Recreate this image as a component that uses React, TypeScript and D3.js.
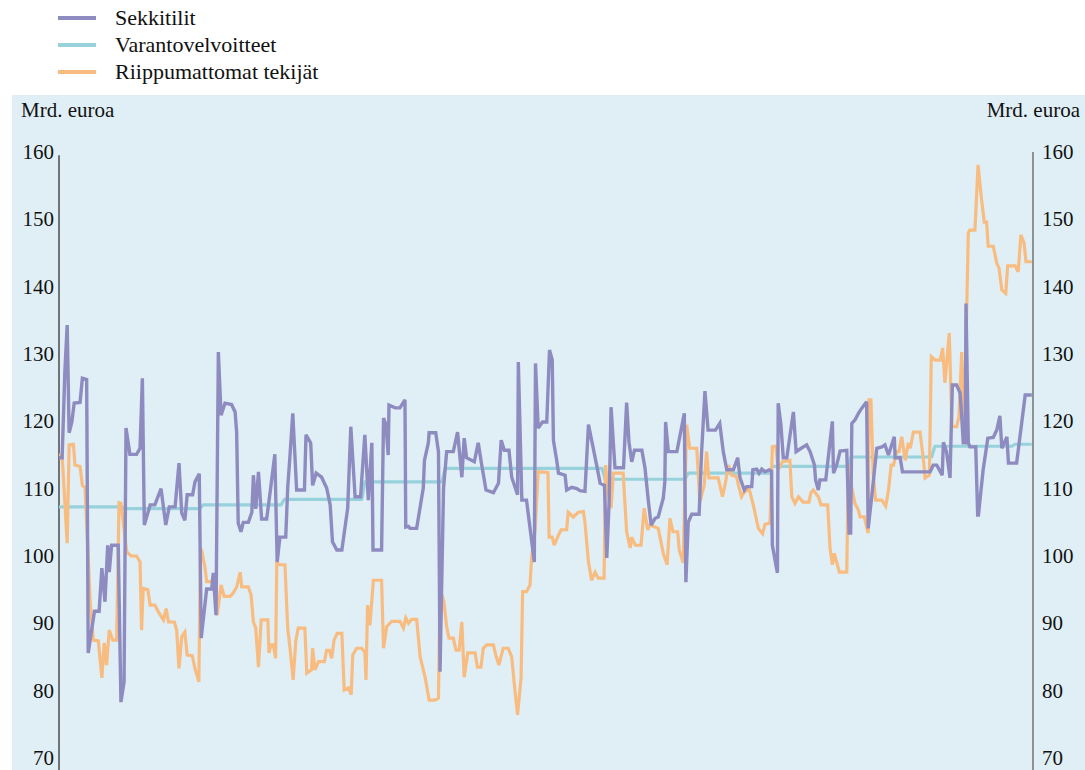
import React from "react";
import * as d3 from "d3";

// Legend / series names
const seriesNames = ["Sekkitilit", "Varantovelvoitteet", "Riippumattomat tekijät"];
const seriesColors = ["#8e8bc0", "#97d2dc", "#f8bc80"];
const yTicks = [70, 80, 90, 100, 110, 120, 130, 140, 150, 160];
const unitLabel = "Mrd. euroa";

// Sekkitilit (day index, value)
const sekkiDay = [0, 0.8, 1.5, 2.1, 2.6, 3.3, 3.9, 5.4, 6.0, 7.1, 7.5, 9.1, 10.3, 11.0, 11.8, 12.5, 12.9, 13.5, 15.2, 15.9, 16.7, 17.2, 18.2, 19.9, 20.8, 21.4, 21.9, 23.4, 24.6, 26.2, 27.4, 28.3, 29.8, 30.8, 31.5, 32.3, 32.9, 34.3, 34.9, 36.0, 36.5, 37.9, 39.2, 39.6, 40.3, 40.9, 41.6, 42.6, 44.3, 45.2, 45.6, 46.0, 46.7, 47.3, 48.6, 49.5, 49.9, 50.5, 51.2, 52.0, 53.3, 54.2, 55.4, 56.0, 56.7, 58.2, 58.7, 59.3, 60.0, 61.0, 63.0, 63.4, 64.6, 65.1, 66.0, 67.4, 68.7, 69.6, 70.2, 71.3, 72.6, 74.1, 74.9, 76.0, 77.4, 78.5, 79.4, 80.3, 80.6, 82.8, 83.3, 83.9, 84.5, 84.7, 86.3, 87.5, 88.8, 89.0, 89.7, 90.1, 91.8, 93.5, 93.8, 94.8, 95.0, 96.7, 97.4, 97.8, 98.7, 99.5, 101.2, 102.3, 103.4, 104.0, 104.6, 106.6, 107.6, 108.5, 109.6, 111.5, 112.8, 113.5, 114.3, 115.5, 116.2, 117.7, 117.9, 118.8, 120.0, 122.0, 122.3, 123.0, 124.1, 125.2, 125.9, 126.6, 126.9, 127.8, 128.2, 129.9, 130.3, 131.6, 132.9, 133.7, 135.0, 135.9, 138.0, 138.9, 140.0, 140.6, 141.2, 141.7, 142.7, 144.9, 145.7, 146.3, 147.0, 147.7, 149.6, 150.4, 151.3, 152.0, 153.0, 153.8, 155.1, 155.5, 155.7, 156.4, 158.6, 160.5, 160.9, 161.5, 162.4, 164.3, 164.9, 165.8, 166.6, 168.5, 169.6, 170.5, 171.4, 173.1, 174.2, 174.8, 175.9, 176.5, 177.8, 178.1, 179.1, 179.7, 180.4, 181.2, 182.3, 182.9, 183.1, 184.4, 184.6, 185.3, 185.9, 186.8, 188.5, 189.2, 190.5, 191.9, 192.8, 193.9, 194.2, 194.9, 195.3, 196.8, 198.5, 198.8, 199.6, 200.5, 202.2, 202.8, 203.2, 203.5, 204.3, 205.2, 206.1, 207.3, 207.7, 208.6, 209.9, 211.2, 212.0, 212.9, 214.4, 214.6, 215.9, 216.5, 223.6, 224.4, 225.3, 226.7, 227.0, 227.8, 228.7, 229.3, 230.4, 231.3, 231.7, 232.1, 232.6, 232.8, 233.4, 233.8, 235.3, 235.8, 236.0, 237.2, 238.4, 239.8, 240.7, 241.5, 242.0, 243.3, 243.7, 245.8, 248.0, 249.7];
const sekkiValue = [114.6, 114.6, 127.3, 134.3, 118.3, 119.9, 122.7, 122.8, 126.4, 126.2, 85.6, 91.8, 91.8, 98.2, 93.2, 101.6, 97.6, 101.6, 101.6, 78.3, 81.3, 119.0, 115.1, 115.1, 116.0, 126.4, 104.6, 107.6, 107.6, 110.0, 104.6, 107.3, 107.3, 113.8, 106.4, 105.3, 109.1, 109.1, 111.0, 112.2, 87.8, 95.1, 95.1, 97.5, 91.2, 130.3, 120.9, 122.7, 122.5, 121.4, 118.4, 104.9, 103.6, 105.0, 105.0, 106.5, 112.0, 107.0, 112.5, 105.5, 105.5, 109.5, 115.1, 99.1, 102.8, 102.8, 110.1, 115.0, 121.2, 109.8, 109.8, 118.0, 116.8, 110.5, 112.3, 111.7, 110.1, 107.6, 102.1, 100.9, 100.9, 107.1, 119.2, 108.8, 108.8, 118.0, 108.3, 116.8, 100.9, 100.9, 120.5, 119.5, 115.0, 122.4, 122.0, 122.0, 123.2, 104.3, 104.4, 104.1, 104.1, 110.1, 114.2, 116.8, 118.3, 118.3, 115.5, 82.8, 110.1, 115.5, 115.5, 118.4, 111.7, 117.5, 114.6, 114.0, 116.8, 113.5, 109.8, 109.4, 110.8, 117.2, 115.7, 115.7, 111.7, 109.1, 128.8, 108.3, 108.3, 99.1, 128.6, 119.0, 119.9, 119.9, 130.6, 129.1, 117.2, 114.0, 112.3, 112.0, 109.8, 110.2, 110.0, 109.7, 109.6, 119.5, 113.5, 110.8, 110.5, 99.7, 108.0, 122.1, 113.1, 113.1, 122.8, 116.9, 114.0, 115.7, 115.7, 113.1, 108.0, 104.6, 105.6, 105.8, 108.6, 111.0, 119.9, 115.5, 115.5, 121.2, 96.1, 105.0, 106.2, 106.2, 115.0, 124.5, 118.7, 118.7, 119.7, 115.5, 112.8, 112.8, 114.6, 111.6, 109.8, 110.3, 110.3, 112.8, 112.9, 112.3, 112.9, 112.5, 112.8, 112.6, 101.6, 97.5, 122.7, 119.5, 114.6, 114.6, 121.4, 115.5, 116.0, 116.5, 115.5, 113.5, 111.3, 109.8, 111.3, 111.3, 120.0, 112.3, 113.5, 115.6, 115.7, 103.4, 103.4, 119.7, 120.2, 121.2, 122.0, 122.9, 104.1, 108.8, 116.0, 116.2, 116.5, 115.0, 117.7, 114.6, 114.6, 112.5, 112.5, 113.5, 113.5, 112.0, 116.9, 115.5, 111.6, 125.4, 125.4, 124.2, 120.7, 116.8, 116.8, 137.5, 116.8, 116.2, 116.2, 106.1, 106.1, 112.8, 117.5, 117.6, 118.7, 120.8, 116.0, 117.7, 113.8, 113.8, 123.9, 123.9];

// Varantovelvoitteet (day index, value)
const varantoDay = [0, 16.0, 16.8, 36.2, 37.0, 57.0, 57.8, 77.7, 78.5, 98.3, 99.1, 139.4, 140.2, 160.7, 161.5, 182.4, 183.2, 202.5, 203.3, 224.0, 224.8, 244.6, 245.4, 249.7];
const varantoValue = [107.3, 107.3, 107.05, 107.05, 107.6, 107.6, 108.4, 108.4, 111.0, 111.0, 113.0, 113.0, 111.4, 111.4, 112.3, 112.3, 113.3, 113.3, 114.7, 114.7, 116.3, 116.3, 116.6, 116.6];

// Riippumattomat tekijät (day index, value)
const riippDay = [0, 0.8, 2.1, 2.6, 3.7, 4.1, 5.4, 6.0, 6.7, 8.0, 8.8, 10.1, 11.0, 11.6, 12.2, 12.9, 13.8, 14.8, 15.4, 15.9, 17.4, 18.5, 19.9, 20.8, 21.2, 21.6, 22.8, 23.4, 24.6, 25.7, 26.8, 27.5, 28.1, 29.6, 30.2, 30.8, 31.5, 32.3, 32.9, 34.2, 34.9, 35.9, 36.3, 36.6, 37.5, 37.9, 39.2, 39.8, 40.6, 41.6, 42.4, 43.9, 44.7, 45.6, 46.5, 46.9, 48.6, 49.3, 49.9, 50.5, 51.2, 51.9, 53.6, 53.9, 54.4, 55.0, 55.6, 55.9, 56.7, 58.0, 58.7, 59.3, 60.1, 60.8, 61.4, 63.1, 63.6, 64.8, 65.1, 65.7, 66.6, 68.1, 68.7, 69.4, 70.0, 70.6, 71.4, 72.6, 73.2, 74.3, 75.0, 75.4, 76.4, 77.7, 78.5, 78.8, 79.2, 79.8, 80.7, 82.8, 83.3, 84.1, 85.4, 87.5, 88.4, 89.0, 89.7, 90.5, 91.8, 92.7, 94.0, 95.0, 96.5, 97.4, 97.8, 98.8, 99.5, 100.1, 101.2, 101.9, 102.7, 103.4, 104.0, 104.9, 106.8, 107.4, 108.3, 108.9, 109.8, 111.5, 112.1, 112.9, 114.0, 115.3, 116.2, 116.9, 117.7, 118.6, 119.0, 120.0, 120.9, 121.3, 122.2, 123.0, 125.5, 125.8, 126.6, 127.1, 128.2, 128.9, 130.3, 130.7, 132.0, 133.3, 134.6, 135.0, 135.9, 136.7, 137.6, 138.4, 139.9, 140.3, 140.8, 141.7, 142.3, 144.8, 145.7, 146.6, 147.0, 147.9, 149.4, 150.2, 151.1, 151.7, 153.8, 155.1, 156.1, 156.8, 157.6, 158.8, 159.2, 160.2, 161.1, 161.9, 163.7, 164.1, 164.5, 165.6, 166.2, 166.8, 169.2, 170.3, 171.1, 171.8, 172.7, 173.9, 174.4, 175.2, 175.7, 177.1, 178.2, 179.5, 180.6, 181.2, 182.5, 183.1, 184.0, 184.6, 185.7, 187.6, 188.1, 188.9, 189.8, 191.0, 192.5, 193.0, 193.6, 194.9, 195.6, 197.3, 197.9, 198.5, 199.0, 200.3, 202.2, 202.6, 203.5, 204.3, 205.2, 205.6, 206.7, 207.3, 207.7, 207.9, 208.4, 209.0, 209.6, 211.2, 212.2, 212.9, 213.6, 214.2, 215.0, 215.6, 216.3, 217.2, 218.0, 218.5, 219.3, 221.0, 221.9, 222.3, 223.4, 223.9, 224.9, 226.2, 226.8, 227.4, 228.5, 229.2, 230.4, 231.0, 231.7, 232.3, 233.4, 233.8, 235.1, 235.9, 236.8, 237.5, 238.1, 238.5, 239.8, 240.7, 241.3, 242.0, 243.0, 243.5, 245.4, 246.2, 246.9, 247.7, 248.2, 249.7];
const riippValue = [115.0, 115.0, 101.9, 116.5, 116.6, 113.5, 113.3, 110.5, 110.1, 93.2, 87.5, 87.4, 81.9, 87.1, 83.8, 89.0, 87.5, 87.5, 107.9, 107.8, 100.6, 100.0, 100.0, 99.1, 89.0, 95.2, 95.0, 92.7, 92.7, 91.5, 90.5, 92.2, 90.2, 90.2, 89.0, 83.3, 88.0, 88.7, 85.3, 85.2, 83.3, 81.3, 101.0, 100.9, 98.2, 96.2, 96.2, 97.2, 91.2, 95.7, 94.0, 94.0, 94.5, 95.4, 97.6, 95.4, 95.4, 94.2, 90.2, 89.3, 83.5, 90.5, 90.5, 85.6, 86.8, 86.8, 84.8, 99.0, 98.7, 98.7, 89.3, 86.3, 81.6, 87.5, 89.3, 89.3, 82.6, 83.1, 86.3, 83.1, 84.3, 84.3, 86.0, 86.0, 84.8, 87.5, 88.5, 88.5, 80.1, 80.4, 79.4, 85.3, 86.3, 86.3, 85.7, 81.6, 92.7, 89.7, 96.4, 96.4, 86.3, 89.5, 90.3, 90.3, 89.3, 90.8, 90.0, 90.6, 90.6, 85.0, 81.9, 78.6, 78.6, 78.9, 95.2, 93.2, 89.5, 87.8, 87.8, 86.0, 86.0, 90.2, 82.0, 85.6, 85.6, 83.5, 83.5, 86.3, 86.8, 86.8, 85.3, 83.8, 86.3, 86.3, 85.0, 80.8, 76.4, 81.9, 94.7, 94.7, 95.7, 99.7, 103.9, 112.5, 112.4, 102.8, 102.8, 101.6, 103.1, 103.9, 103.9, 106.5, 105.8, 106.5, 106.6, 105.0, 99.1, 96.4, 97.6, 96.7, 96.7, 113.5, 110.1, 107.1, 112.3, 112.3, 103.6, 101.2, 102.8, 101.6, 101.6, 107.1, 103.9, 104.6, 104.1, 100.4, 98.7, 105.6, 103.6, 103.6, 100.9, 99.0, 119.5, 116.0, 116.0, 112.0, 108.0, 110.5, 115.5, 111.6, 111.6, 108.8, 111.0, 113.5, 112.0, 111.8, 110.5, 108.8, 109.3, 110.1, 107.6, 104.1, 103.3, 104.7, 104.9, 116.2, 116.3, 112.8, 114.0, 114.2, 108.8, 107.8, 108.8, 108.0, 108.0, 109.4, 109.8, 108.8, 107.6, 107.6, 101.2, 98.7, 100.4, 97.6, 97.6, 113.5, 110.1, 107.8, 106.8, 105.8, 105.8, 104.3, 103.4, 123.2, 123.2, 112.0, 108.3, 108.3, 107.4, 109.8, 113.5, 113.5, 115.5, 115.5, 117.7, 114.2, 116.8, 116.0, 118.4, 118.4, 114.2, 111.6, 112.0, 129.6, 129.1, 129.1, 130.9, 125.7, 133.1, 119.2, 119.2, 120.7, 130.3, 118.0, 148.0, 148.4, 148.4, 158.1, 152.9, 149.6, 149.6, 146.0, 146.0, 143.5, 142.7, 139.5, 139.0, 143.1, 143.1, 142.2, 147.7, 146.5, 143.7, 143.7];

const W = 1085;
const H = 770;
const FONT = "Liberation Serif, Times New Roman, serif";

export default function App() {
  const x = d3.scaleLinear().domain([0, 250]).range([59, 1033]);
  const y = d3.scaleLinear().domain([70, 160]).range([758, 152]);
  const line = d3
    .line<[number, number]>()
    .x((d) => x(d[0]))
    .y((d) => y(d[1]));

  const zip = (a: number[], b: number[]) => a.map((d, i) => [d, b[i]] as [number, number]);
  const sekki = zip(sekkiDay, sekkiValue);
  const varanto = zip(varantoDay, varantoValue);
  const riipp = zip(riippDay, riippValue);

  const legendY = [18, 45, 72];
  const ts = { fontFamily: FONT, fontSize: "21px" } as React.CSSProperties;
  const ls = { fontFamily: FONT, fontSize: "22px" } as React.CSSProperties;

  return (
    <svg
      width={W}
      height={H}
      style={{ position: "absolute", left: 0, top: 0, background: "#ffffff" }}
    >
      <rect x={12} y={95} width={W - 12} height={H - 95} fill="#e0eff5" />

      {seriesNames.map((name, i) => (
        <g key={name}>
          <line x1={58} x2={96} y1={legendY[i]} y2={legendY[i]} stroke={seriesColors[i]} strokeWidth={4} />
          <text x={115} y={legendY[i] + 7} style={ls} fill="#111">
            {name}
          </text>
        </g>
      ))}

      <text x={21} y={117} style={ts} fill="#111">{unitLabel}</text>
      <text x={1080} y={117} style={ts} fill="#111" textAnchor="end">{unitLabel}</text>

      <line x1={59} x2={59} y1={y(159.5)} y2={H} stroke="#222" strokeWidth={1.2} />
      <line x1={1033} x2={1033} y1={y(160)} y2={H} stroke="#555" strokeWidth={1.2} />

      {yTicks.map((t) => (
        <g key={t}>
          <text x={54} y={y(t) + 7} style={ts} textAnchor="end" fill="#111">{t}</text>
          <text x={1042} y={y(t) + 7} style={ts} textAnchor="start" fill="#111">{t}</text>
        </g>
      ))}

      <path d={line(varanto) || ""} fill="none" stroke={seriesColors[1]} strokeWidth={3.2} strokeLinejoin="round" />
      <path d={line(riipp) || ""} fill="none" stroke={seriesColors[2]} strokeWidth={3.2} strokeLinejoin="miter" strokeMiterlimit={3} />
      <path d={line(sekki) || ""} fill="none" stroke={seriesColors[0]} strokeWidth={3.4} strokeLinejoin="miter" strokeMiterlimit={3} />
    </svg>
  );
}
